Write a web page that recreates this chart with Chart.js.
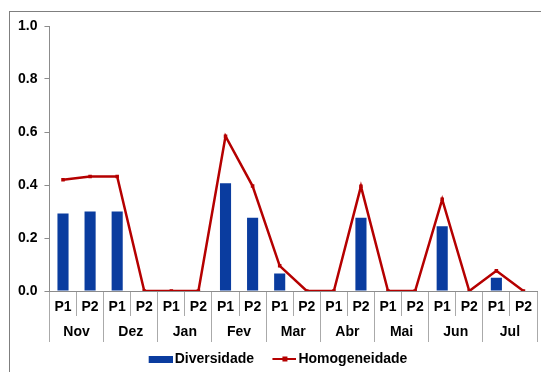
<!DOCTYPE html>
<html>
<head>
<meta charset="utf-8">
<script src="https://cdn.jsdelivr.net/npm/chart.js@4.4.1/dist/chart.umd.min.js"></script>
<style>
    body { margin: 0; background: #fff; }
    #moldura { position: absolute; left: 9px; top: 11px; width: 600px; height: 400px;
               border-left: 1px solid #7f7f7f; border-top: 1px solid #7f7f7f; }
    #grafico { position: absolute; left: 0; top: 0; }
</style>
</head>
<body>
<div id="moldura"></div>
<canvas id="grafico" width="541" height="372"></canvas>
<script>
// Dados do gráfico
const meses = ['Nov', 'Dez', 'Jan', 'Fev', 'Mar', 'Abr', 'Mai', 'Jun', 'Jul'];
const periodos = ['P1', 'P2', 'P1', 'P2', 'P1', 'P2', 'P1', 'P2', 'P1', 'P2',
                  'P1', 'P2', 'P1', 'P2', 'P1', 'P2', 'P1', 'P2'];
const diversidade = [0.292, 0.300, 0.300, 0, 0, 0, 0.407, 0.276, 0.066, 0,
                     0, 0.276, 0, 0, 0.244, 0, 0.050, 0];
const homogeneidade = [0.420, 0.432, 0.432, 0, 0, 0, 0.584, 0.396, 0.095, 0,
                       0, 0.395, 0, 0, 0.346, 0, 0.076, 0];
const ticksY = [0, 0.2, 0.4, 0.6, 0.8, 1.0];

const AZUL = '#0a3c9f';
const VERMELHO = '#b50000';
const CINZA = '#8c8c8c';
const CINZA_CLARO = '#aaaaaa';
const fonte = { family: '"Liberation Sans", Arial, sans-serif', weight: 'bold', size: 14 };

// Ícones da legenda (conteúdo encostado à direita)
function iconeBarra(){
    const c = document.createElement('canvas');
    c.width = 36; c.height = 7;
    const g = c.getContext('2d');
    g.fillStyle = AZUL;
    g.fillRect(12, 0, 24, 7);
    return c;
}
function iconeLinha(){
    const c = document.createElement('canvas');
    c.width = 36; c.height = 6;
    const g = c.getContext('2d');
    g.strokeStyle = VERMELHO;
    g.lineWidth = 2;
    g.beginPath(); g.moveTo(12, 3); g.lineTo(36, 3); g.stroke();
    g.fillStyle = VERMELHO;
    g.fillRect(22, 0.5, 5, 5);
    return c;
}

// escala só para desenhar as linhas separadoras abaixo do eixo
function separador(labels, comprimento){
    return {
        type: 'category',
        axis: 'x',
        position: { y: 0 },
        labels: labels,
        offset: true,
        ticks: { display: false },
        grid: { offset: true, drawOnChartArea: false, tickLength: comprimento, color: CINZA_CLARO },
        border: { display: false }
    };
}

const ctx = document.getElementById('grafico').getContext('2d');
new Chart(ctx, {
    type: 'bar',
    data: {
        labels: periodos,
        datasets: [
            {
                type: 'line',
                label: 'Homogeneidade',
                data: homogeneidade,
                borderColor: VERMELHO,
                backgroundColor: VERMELHO,
                borderWidth: 2.5,
                pointStyle: 'rect',
                pointRadius: 2.5,
                pointBorderWidth: 0,
                tension: 0,
                fill: false,
                order: 0
            },
            {
                label: 'Diversidade',
                data: diversidade,
                backgroundColor: AZUL,
                borderWidth: 0,
                categoryPercentage: 1,
                barPercentage: 0.41,
                order: 1
            }
        ]
    },
    options: {
        responsive: false,
        animation: false,
        layout: { padding: { top: 26, left: 11, right: 3, bottom: -4 } },
        plugins: {
            tooltip: { enabled: false },
            legend: {
                position: 'bottom',
                labels: {
                    color: '#000',
                    font: fonte,
                    usePointStyle: true,
                    pointStyleWidth: 26,
                    padding: 11.4,
                    sort: (a, b) => a.datasetIndex === 1 ? -1 : 1,
                    generateLabels: (chart) => chart.data.datasets.map((ds, i) => ({
                        text: ds.label,
                        datasetIndex: i,
                        pointStyle: ds.type === 'line' ? iconeLinha() : iconeBarra(),
                        fillStyle: 'transparent',
                        strokeStyle: 'transparent',
                        lineWidth: 0,
                        fontColor: '#000'
                    }))
                }
            }
        },
        scales: {
            y: {
                min: 0,
                max: 1,
                afterBuildTicks: (s) => { s.ticks = ticksY.map(v => ({ value: v })); },
                ticks: {
                    color: '#000',
                    font: fonte,
                    padding: 7,
                    callback: (v) => Number(v).toFixed(1)
                },
                grid: { drawOnChartArea: false, tickLength: 5, color: CINZA },
                border: { color: CINZA }
            },
            x: {
                offset: true,
                ticks: { color: '#000', font: fonte, padding: 8, maxRotation: 0, autoSkip: false },
                grid: { display: false, drawTicks: false },
                border: { color: CINZA }
            },
            meses: {
                type: 'category',
                axis: 'x',
                position: 'bottom',
                labels: meses,
                offset: true,
                ticks: { color: '#000', font: fonte, padding: 0, maxRotation: 0, autoSkip: false },
                grid: { display: false, drawTicks: false },
                border: { display: false }
            },
            sepP: separador(periodos, 25),
            sepM: separador(meses, 51)
        }
    }
});
</script>
</body>
</html>
